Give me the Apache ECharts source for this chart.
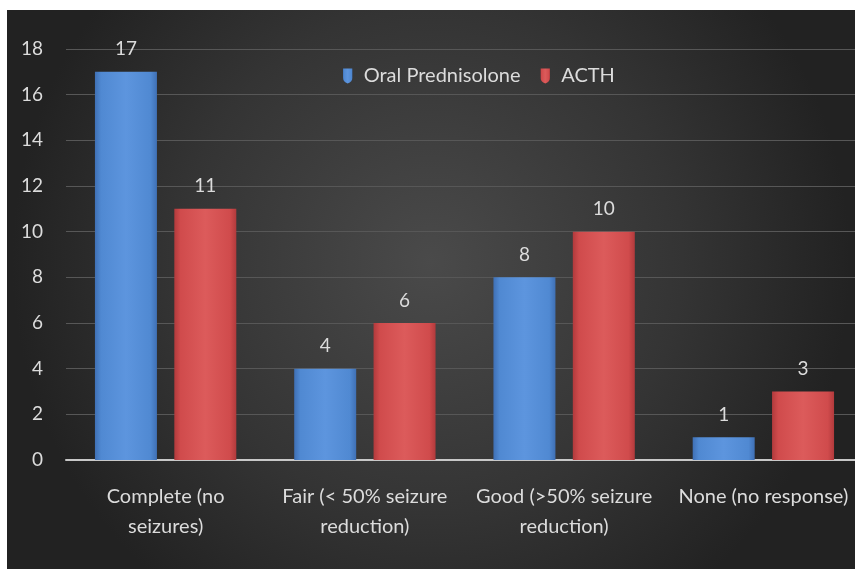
<!DOCTYPE html>
<html>
<head>
<meta charset="utf-8">
<script src="https://cdn.jsdelivr.net/npm/echarts@6/dist/echarts.min.js"></script>
<style>
  html, body { margin: 0; padding: 0; background: #ffffff; }
  #chart { width: 855px; height: 569px; }
</style>
</head>
<body>
<div id="chart"></div>
<script>
// Treatment response by category
const categories = [
  'Complete (no\nseizures)',
  'Fair (< 50% seizure\nreduction)',
  'Good (>50% seizure\nreduction)',
  'None (no response)'
];
const seriesNames = ['Oral Prednisolone', 'ACTH'];
const prednisoloneValues = [17, 4, 8, 1];
const acthValues = [11, 6, 10, 3];
const yTicks = { min: 0, max: 18, interval: 2 };

const FONT = 'Lato, "Open Sans", sans-serif';
const TEXT = '#dcdcdc';
const FS = 19;

function barFill(light, mid, dark) {
  return new echarts.graphic.LinearGradient(0, 0, 1, 0, [
    { offset: 0, color: dark },
    { offset: 0.1, color: mid },
    { offset: 0.5, color: light },
    { offset: 0.9, color: mid },
    { offset: 1, color: dark }
  ]);
}

const chart = echarts.init(document.getElementById('chart'), null, { renderer: 'canvas' });

chart.setOption({
  backgroundColor: '#ffffff',
  animation: false,
  textStyle: { fontFamily: FONT },
  graphic: [{
    type: 'rect',
    z: -10,
    silent: true,
    shape: { x: 7, y: 10, width: 848, height: 559 },
    style: {
      fill: new echarts.graphic.RadialGradient(0.5, 0.45, 0.75, [
        { offset: 0, color: '#4a4a4a' },
        { offset: 0.6, color: '#343434' },
        { offset: 1, color: '#222222' }
      ])
    }
  }],
  legend: {
    top: 61,
    left: 338,
    itemWidth: 12,
    itemHeight: 15,
    itemGap: 20,
    icon: 'path://M0,0 L10,0 L10,10 Q10,14 5,16 Q0,14 0,10 Z',
    textStyle: { color: TEXT, fontSize: 20, fontFamily: FONT, padding: [0, 0, 0, 5] },
    data: seriesNames
  },
  grid: {
    left: 66,
    top: 49,
    width: 797,
    height: 411,
    outerBoundsMode: 'none',
    containLabel: false
  },
  xAxis: {
    type: 'category',
    data: categories,
    axisLine: { show: true, lineStyle: { color: '#c8c8c8', width: 2 } },
    axisTick: { show: false },
    axisLabel: {
      color: TEXT,
      fontSize: 20,
      lineHeight: 30,
      margin: 22,
      interval: 0,
      fontFamily: FONT
    }
  },
  yAxis: {
    type: 'value',
    min: yTicks.min,
    max: yTicks.max,
    interval: yTicks.interval,
    axisLine: { show: false },
    axisTick: { show: false },
    splitLine: { lineStyle: { color: '#575757', width: 1 } },
    axisLabel: {
      color: TEXT,
      fontSize: FS,
      margin: 23,
      fontFamily: FONT
    }
  },
  series: [
    {
      name: seriesNames[0],
      type: 'bar',
      data: prednisoloneValues,
      barWidth: 62,
      barGap: '28%',
      itemStyle: {
        color: barFill('#5d95de', '#5089d2', '#3f70b5')
      },
      label: {
        show: true,
        position: 'top',
        distance: 13,
        color: TEXT,
        fontSize: FS,
        fontFamily: FONT
      }
    },
    {
      name: seriesNames[1],
      type: 'bar',
      data: acthValues,
      barWidth: 62,
      itemStyle: {
        color: barFill('#dc5b5b', '#d04b4c', '#b23a3c')
      },
      label: {
        show: true,
        position: 'top',
        distance: 13,
        color: TEXT,
        fontSize: FS,
        fontFamily: FONT
      }
    }
  ]
});
</script>
</body>
</html>
